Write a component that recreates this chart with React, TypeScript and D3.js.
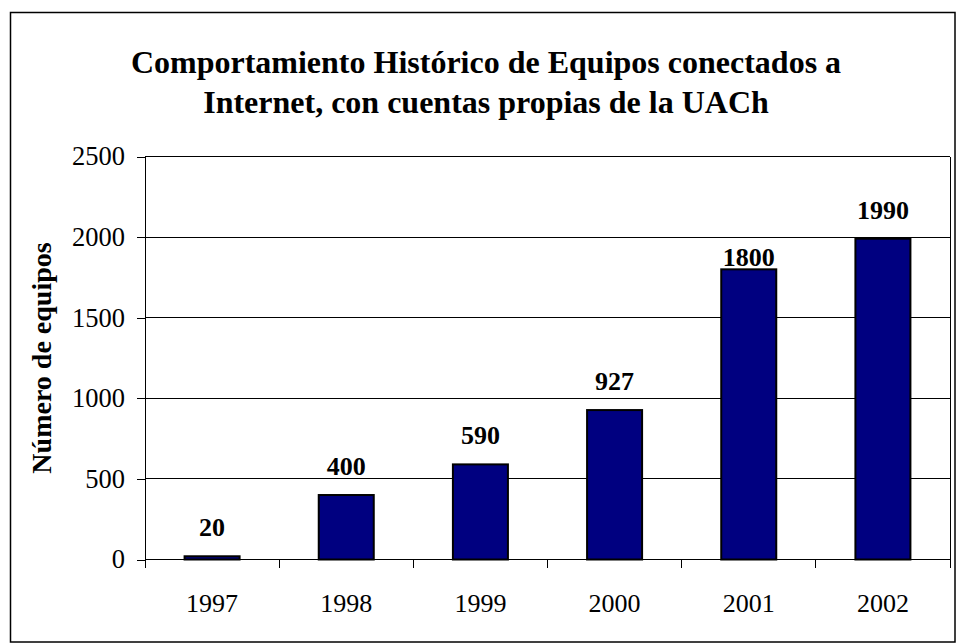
import React, { useEffect, useRef } from "react";
import * as d3 from "d3";

// chart data
const years = ["1997", "1998", "1999", "2000", "2001", "2002"];
const equipos = [20, 400, 590, 927, 1800, 1990];
const yTicks = [0, 500, 1000, 1500, 2000, 2500];
const titleLines = [
  "Comportamiento Histórico de Equipos conectados a",
  "Internet, con cuentas propias de la UACh",
];
const yTitle = "Número de equipos";

// label offsets above bar tops (the 2001 label sits on its bar)
const labelGap = [20, 20, 20, 20, 3, 20];

const W = 956;
const H = 643;
const FONT = "'Liberation Serif', 'Times New Roman', Times, serif";

export default function App() {
  const ref = useRef<SVGSVGElement | null>(null);

  useEffect(() => {
    const svg = d3.select(ref.current);
    svg.selectAll("*").remove();

    var left = 145;
    var right = 950;
    var top = 156.5;
    var bottom = 559.5;

    // outer chart border
    svg
      .append("rect")
      .attr("x", 10.5)
      .attr("y", 12.5)
      .attr("width", W - 11.5)
      .attr("height", H - 13.5)
      .attr("fill", "white")
      .attr("stroke", "black")
      .attr("stroke-width", 1.5);

    // title
    svg
      .append("g")
      .selectAll("text")
      .data(titleLines)
      .enter()
      .append("text")
      .attr("x", 486)
      .attr("y", (d, i) => 73 + i * 40)
      .attr("text-anchor", "middle")
      .attr("font-family", FONT)
      .attr("font-weight", "bold")
      .attr("font-size", 32)
      .text((d) => d);

    var x = d3.scaleBand().domain(years).range([left, right]).padding(0);
    var y = d3.scaleLinear().domain([0, 2500]).range([bottom, top]);

    // gridlines
    svg
      .append("g")
      .selectAll("line")
      .data(yTicks.filter((t) => t > 0))
      .enter()
      .append("line")
      .attr("x1", left)
      .attr("x2", right)
      .attr("y1", (d) => y(d))
      .attr("y2", (d) => y(d))
      .attr("stroke", "black")
      .attr("stroke-width", 1)
      .attr("shape-rendering", "crispEdges");

    // right edge of plot area
    svg
      .append("line")
      .attr("x1", right)
      .attr("x2", right)
      .attr("y1", top)
      .attr("y2", bottom)
      .attr("stroke", "black")
      .attr("shape-rendering", "crispEdges");

    // bars
    var barW = x.bandwidth() * 0.41;
    svg
      .append("g")
      .selectAll("rect")
      .data(equipos)
      .enter()
      .append("rect")
      .attr("x", (d, i) => x(years[i])! + (x.bandwidth() - barW) / 2)
      .attr("y", (d) => y(d))
      .attr("width", barW)
      .attr("height", (d) => y(0) - y(d))
      .attr("fill", "#000080")
      .attr("stroke", "black")
      .attr("stroke-width", 2);

    // value labels
    svg
      .append("g")
      .selectAll("text")
      .data(equipos)
      .enter()
      .append("text")
      .attr("x", (d, i) => x(years[i])! + x.bandwidth() / 2)
      .attr("y", (d, i) => y(d) - labelGap[i])
      .attr("text-anchor", "middle")
      .attr("font-family", FONT)
      .attr("font-weight", "bold")
      .attr("font-size", 26)
      .text((d) => d);

    // y axis
    var yAxis = d3
      .axisLeft(y)
      .tickValues(yTicks)
      .tickSize(8)
      .tickPadding(12)
      .tickFormat(d3.format("d"));
    var gy = svg
      .append("g")
      .attr("transform", "translate(" + left + ",0)")
      .call(yAxis);
    gy.select(".domain").attr("stroke", "black").attr("shape-rendering", "crispEdges");
    gy.selectAll(".tick line").attr("stroke", "black").attr("shape-rendering", "crispEdges");
    gy.selectAll(".tick text")
      .attr("font-family", FONT)
      .attr("font-size", 26.5)
      .attr("fill", "black");

    // x axis: ticks at category boundaries
    svg
      .append("line")
      .attr("x1", left)
      .attr("x2", right)
      .attr("y1", bottom)
      .attr("y2", bottom)
      .attr("stroke", "black")
      .attr("shape-rendering", "crispEdges");
    var bounds = years.map((d) => x(d)!).concat([right]);
    svg
      .append("g")
      .selectAll("line")
      .data(bounds)
      .enter()
      .append("line")
      .attr("x1", (d) => d)
      .attr("x2", (d) => d)
      .attr("y1", bottom)
      .attr("y2", bottom + 8)
      .attr("stroke", "black")
      .attr("shape-rendering", "crispEdges");
    svg
      .append("g")
      .selectAll("text")
      .data(years)
      .enter()
      .append("text")
      .attr("x", (d) => x(d)! + x.bandwidth() / 2)
      .attr("y", 612)
      .attr("text-anchor", "middle")
      .attr("font-family", FONT)
      .attr("font-size", 26)
      .text((d) => d);

    // y title
    svg
      .append("text")
      .attr("transform", "translate(51," + 358 + ") rotate(-90)")
      .attr("text-anchor", "middle")
      .attr("font-family", FONT)
      .attr("font-weight", "bold")
      .attr("font-size", 28)
      .text(yTitle);
  }, []);

  return (
    <div style={{ position: "absolute", left: 0, top: 0 }}>
      <svg ref={ref} width={W} height={H} style={{ display: "block" }} />
    </div>
  );
}
